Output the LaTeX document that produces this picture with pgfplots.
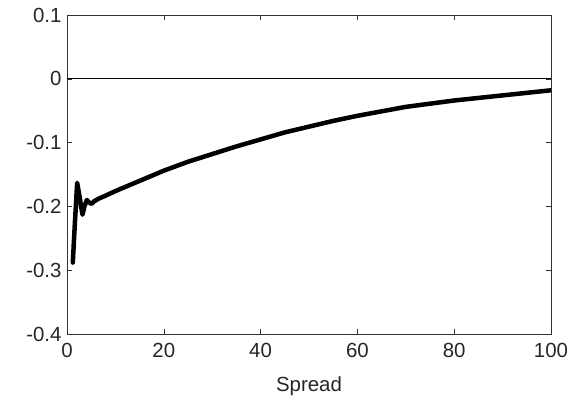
\documentclass[border=0pt]{standalone}
\usepackage{fontspec}
\setmainfont{Liberation Sans}
\usepackage{pgfplots}
\pgfplotsset{compat=1.18}

\begin{document}
\begin{tikzpicture}
\begin{axis}[
  scale only axis,
  width=484bp, height=319bp,
  xmin=0, xmax=100, ymin=-0.4, ymax=0.1,
  xtick={0,20,40,60,80,100},
  xticklabels={0,20,40,60,80,100},
  ytick={-0.4,-0.3,-0.2,-0.1,0,0.1},
  yticklabels={-0.4,-0.3,-0.2,-0.1,0,0.1},
  tick align=inside,
  major tick length=5bp,
  tick style={black!80, line width=0.6bp},
  axis line style={black!80, line width=0.8bp},
  ticklabel style={font=\fontsize{20.5}{24}\selectfont, text=black!85},
  label style={font=\fontsize{20.5}{24}\selectfont, text=black!85},
  xticklabel style={yshift=-6bp},
  yticklabel style={xshift=-2bp},
  xlabel={Spread},
  xlabel style={yshift=-12bp},
  clip=true,
]
  \coordinate (sw) at (rel axis cs:0,0);
  % zero reference line
  \addplot[black, line width=1.2bp, forget plot] coordinates {(0,0) (100,0)};
  % response against spread
  \addplot[black, line width=4.5bp, line join=round, line cap=round] coordinates {
    (1.2,-0.288) (1.6,-0.230) (2.1,-0.163) (2.6,-0.185) (3.2,-0.213)
    (3.6,-0.200) (4.1,-0.190) (4.6,-0.194) (5.1,-0.196) (5.6,-0.192)
    (6.5,-0.188) (8,-0.183) (10,-0.176) (12.5,-0.168) (15,-0.160)
    (17.5,-0.152) (20,-0.144) (25,-0.130) (30,-0.118) (35,-0.106)
    (40,-0.095) (45,-0.084) (50,-0.075) (55,-0.066) (60,-0.058)
    (65,-0.051) (70,-0.044) (75,-0.039) (80,-0.034) (85,-0.030)
    (90,-0.026) (95,-0.022) (100,-0.018)
  };
\end{axis}
\pgfresetboundingbox
\path (sw) ++(-67bp,-80bp) rectangle ++(582bp,414bp);
\end{tikzpicture}
\end{document}
